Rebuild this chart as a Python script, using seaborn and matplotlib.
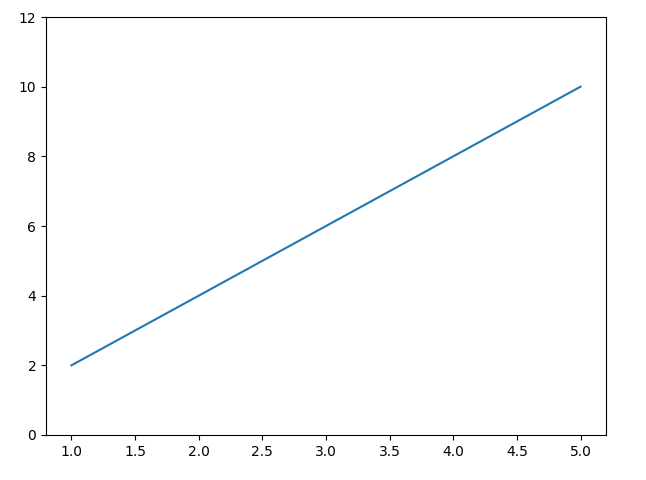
import matplotlib
matplotlib.use("Agg")
import matplotlib.pyplot as plt
import seaborn as sns
import pandas as pd

x_values = [1, 2, 3, 4, 5]
y_values = [2, 4, 6, 8, 10]

df = pd.DataFrame({"x": x_values, "y": y_values})

fig = plt.figure(figsize=(6.46, 4.8), dpi=100)
ax = fig.add_axes([46 / 646, 45 / 480, 560 / 646, 418 / 480])
sns.lineplot(data=df, x="x", y="y", ax=ax, color="#1f77b4", linewidth=1.5)
ax.set_ylim(0, 12)
ax.set_xlabel("")
ax.set_ylabel("")

fig.savefig("out.png", dpi=100)
plt.close(fig)
